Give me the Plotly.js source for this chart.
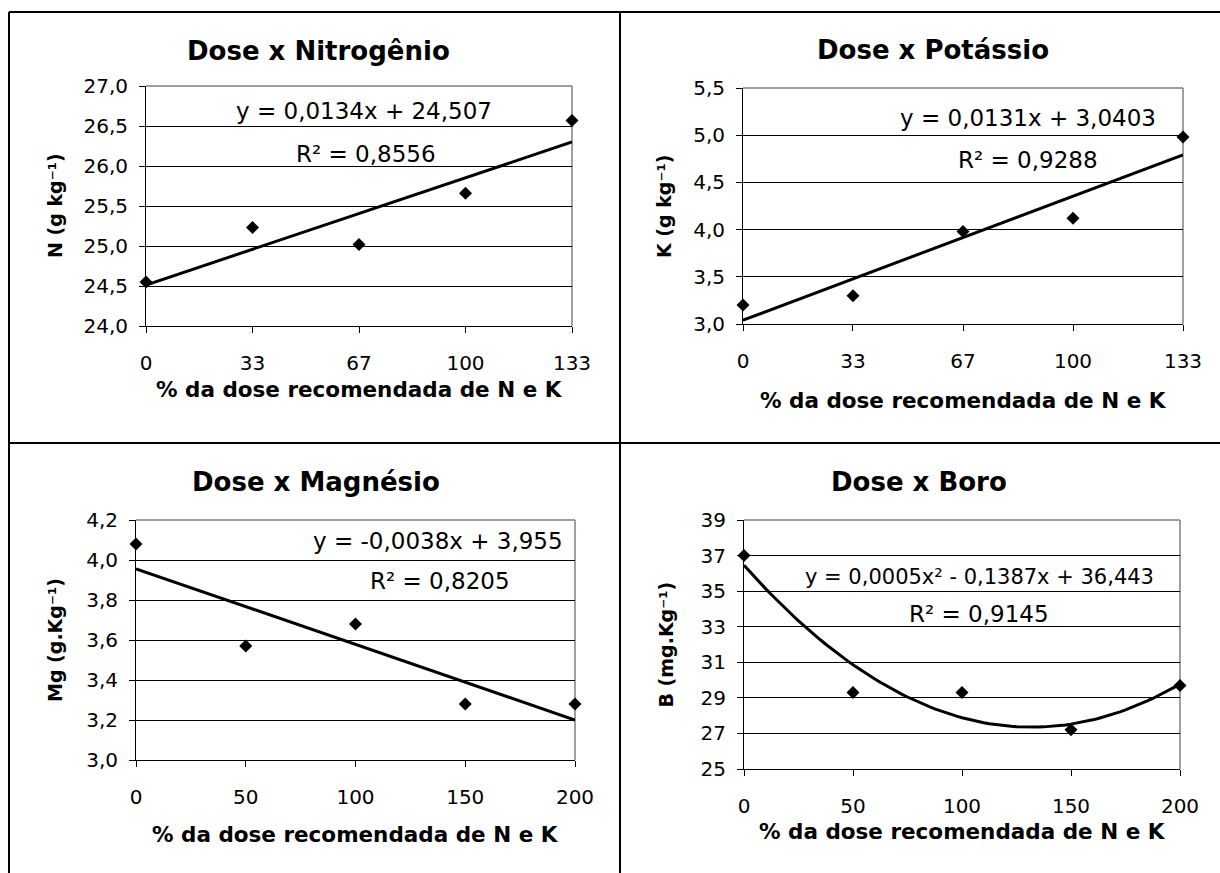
<!DOCTYPE html>
<html>
<head>
<meta charset="utf-8">
<script src="https://cdn.plot.ly/plotly-3.0.1.min.js"></script>
<style>
  html, body { margin: 0; padding: 0; background: #fff; }
  #chart { width: 1220px; height: 873px; }
</style>
</head>
<body>
<div id="chart"></div>
<script>
// Dose of N and K (% of recommended) and leaf nutrient contents
const doseNK = [0, 33.33, 66.67, 100, 133.33];
const doseNKLabels = ['0', '33', '67', '100', '133'];
const doseMgB = [0, 50, 100, 150, 200];
const doseMgBLabels = ['0', '50', '100', '150', '200'];

const nitrogen = [24.55, 25.23, 25.02, 25.66, 26.57];
const potassium = [3.20, 3.30, 3.98, 4.12, 4.98];
const magnesium = [4.08, 3.57, 3.68, 3.28, 3.28];
const boron = [37.0, 29.3, 29.3, 27.2, 29.7];

const nTicks = [24.0, 24.5, 25.0, 25.5, 26.0, 26.5, 27.0];
const kTicks = [3.0, 3.5, 4.0, 4.5, 5.0, 5.5];
const mgTicks = [3.0, 3.2, 3.4, 3.6, 3.8, 4.0, 4.2];
const bTicks = [25, 27, 29, 31, 33, 35, 37, 39];

const titles = ['Dose x Nitrogênio', 'Dose x Potássio', 'Dose x Magnésio', 'Dose x Boro'];
const yTitles = ['N (g kg⁻¹)', 'K (g kg⁻¹)', 'Mg (g.Kg⁻¹)', 'B (mg.Kg⁻¹)'];
const xTitle = '% da dose recomendada de N e K';
const equations = ['y = 0,0134x + 24,507', 'y = 0,0131x + 3,0403', 'y = -0,0038x + 3,955', 'y = 0,0005x² - 0,1387x + 36,443'];
const rSquared = ['R² = 0,8556', 'R² = 0,9288', 'R² = 0,8205', 'R² = 0,9145'];

// least-squares polynomial fit (degree 1 or 2), returns coefficients [c0, c1, c2...]
function polyFit(xs, ys, deg) {
  const n = deg + 1;
  const A = Array.from({length: n}, () => new Array(n + 1).fill(0));
  for (let i = 0; i < xs.length; i++) {
    for (let r = 0; r < n; r++) {
      for (let c = 0; c < n; c++) A[r][c] += Math.pow(xs[i], r + c);
      A[r][n] += ys[i] * Math.pow(xs[i], r);
    }
  }
  for (let p = 0; p < n; p++) {
    for (let r = p + 1; r < n; r++) {
      const f = A[r][p] / A[p][p];
      for (let c = p; c <= n; c++) A[r][c] -= f * A[p][c];
    }
  }
  const coef = new Array(n).fill(0);
  for (let r = n - 1; r >= 0; r--) {
    let s = A[r][n];
    for (let c = r + 1; c < n; c++) s -= A[r][c] * coef[c];
    coef[r] = s / A[r][r];
  }
  return coef;
}

function trendTrace(xs, ys, deg, xa, ya) {
  const coef = polyFit(xs, ys, deg);
  const lo = xs[0], hi = xs[xs.length - 1];
  const steps = 80;
  const tx = [], ty = [];
  for (let i = 0; i <= steps; i++) {
    const x = lo + (hi - lo) * i / steps;
    let y = 0;
    coef.forEach((c, k) => { y += c * Math.pow(x, k); });
    tx.push(x); ty.push(y);
  }
  return {x: tx, y: ty, xaxis: xa, yaxis: ya, mode: 'lines', type: 'scatter',
          line: {color: '#000', width: 3}, hoverinfo: 'skip', showlegend: false};
}

function pointsTrace(xs, ys, xa, ya) {
  return {x: xs, y: ys, xaxis: xa, yaxis: ya, mode: 'markers', type: 'scatter', cliponaxis: false,
          marker: {symbol: 'diamond', size: 10, color: '#000'}, showlegend: false};
}

const W = 1220, H = 873;
const px = v => v / W;
const py = v => 1 - v / H;

const FONT = 'DejaVu Sans, Verdana, sans-serif';

// panel geometry (pixels)
const panels = [
  {xl: 146, xr: 572, yt: 86, yb: 326, titleX: 318, titleY: 51, eqX: 364, eqY: 111, rX: 366, rY: 154, ytX: 55, xtY: 390, eqSize: 23,
   x: doseNK, xLabels: doseNKLabels, y: nitrogen, yTicks: nTicks, fmt: '.1f', deg: 1},
  {xl: 743, xr: 1183, yt: 88, yb: 324, titleX: 933, titleY: 50, eqX: 1028, eqY: 118, rX: 1028, rY: 160, ytX: 664, xtY: 401, eqSize: 23,
   x: doseNK, xLabels: doseNKLabels, y: potassium, yTicks: kTicks, fmt: '.1f', deg: 1},
  {xl: 136, xr: 575, yt: 520, yb: 760, titleX: 316, titleY: 482, eqX: 438, eqY: 541, rX: 440, rY: 581, ytX: 55, xtY: 834, eqSize: 23,
   x: doseMgB, xLabels: doseMgBLabels, y: magnesium, yTicks: mgTicks, fmt: '.1f', deg: 1},
  {xl: 744, xr: 1180, yt: 520, yb: 769, titleX: 919, titleY: 482, eqX: 979, eqY: 577, rX: 979, rY: 614, ytX: 665, xtY: 831, eqSize: 21,
   x: doseMgB, xLabels: doseMgBLabels, y: boron, yTicks: bTicks, fmt: 'd', deg: 2}
];

const data = [];
const layout = {
  width: W, height: H,
  margin: {l: 0, r: 0, t: 0, b: 0},
  paper_bgcolor: '#fff', plot_bgcolor: '#fff',
  separators: ', ',
  font: {family: FONT, color: '#000', size: 20},
  showlegend: false,
  annotations: [],
  shapes: []
};

panels.forEach((p, i) => {
  const n = i + 1;
  const xa = 'x' + (n === 1 ? '' : n);
  const ya = 'y' + (n === 1 ? '' : n);
  const xKey = 'xaxis' + (n === 1 ? '' : n);
  const yKey = 'yaxis' + (n === 1 ? '' : n);

  layout[xKey] = {
    domain: [px(p.xl), px(p.xr)], anchor: ya,
    range: [p.x[0], p.x[p.x.length - 1]],
    tickmode: 'array', tickvals: p.x, ticktext: p.xLabels,
    showline: true, linecolor: '#000', linewidth: 1,
    ticks: 'outside', ticklen: 6, tickcolor: '#000', tickwidth: 1,
    ticklabelstandoff: 13,
    showgrid: false, zeroline: false, fixedrange: true,
    tickfont: {family: FONT, size: 20, color: '#000'}
  };
  layout[yKey] = {
    domain: [py(p.yb), py(p.yt)], anchor: xa,
    range: [p.yTicks[0], p.yTicks[p.yTicks.length - 1]],
    tickmode: 'array', tickvals: p.yTicks, tickformat: p.fmt,
    showline: true, linecolor: '#000', linewidth: 1,
    ticks: 'outside', ticklen: 6, tickcolor: '#000', tickwidth: 1,
    ticklabelstandoff: 7,
    showgrid: true, gridcolor: '#000', gridwidth: 1,
    zeroline: false, fixedrange: true,
    tickfont: {family: FONT, size: 20, color: '#000'}
  };

  data.push(trendTrace(p.x, p.y, p.deg, xa, ya));
  data.push(pointsTrace(p.x, p.y, xa, ya));

  // grey plot-area frame on top and right
  layout.shapes.push({type: 'line', xref: xa + ' domain', yref: ya + ' domain', x0: 0, x1: 1, y0: 1, y1: 1,
                      line: {color: '#808080', width: 1.5}, layer: 'below'});
  layout.shapes.push({type: 'line', xref: xa + ' domain', yref: ya + ' domain', x0: 1, x1: 1, y0: 0, y1: 1,
                      line: {color: '#808080', width: 1.5}, layer: 'below'});

  layout.annotations.push({text: titles[i], xref: 'paper', yref: 'paper',
    x: px(p.titleX), y: py(p.titleY), xanchor: 'center', yanchor: 'middle', showarrow: false,
    font: {family: FONT, size: 26, weight: 'bold', color: '#000'}});
  layout.annotations.push({text: yTitles[i], xref: 'paper', yref: 'paper',
    x: px(p.ytX), y: py((p.yt + p.yb) / 2), xanchor: 'center', yanchor: 'middle', textangle: -90,
    showarrow: false, font: {family: FONT, size: 19, weight: 'bold', color: '#000'}});
  layout.annotations.push({text: xTitle, xref: 'paper', yref: 'paper',
    x: px((p.xl + p.xr) / 2), y: py(p.xtY), xanchor: 'center', yanchor: 'middle',
    showarrow: false, font: {family: FONT, size: 21.5, weight: 'bold', color: '#000'}});
  layout.annotations.push({text: equations[i], xref: 'paper', yref: 'paper',
    x: px(p.eqX), y: py(p.eqY), xanchor: 'center', yanchor: 'middle', showarrow: false,
    font: {family: FONT, size: p.eqSize, color: '#000'}});
  layout.annotations.push({text: rSquared[i], xref: 'paper', yref: 'paper',
    x: px(p.rX), y: py(p.rY), xanchor: 'center', yanchor: 'middle', showarrow: false,
    font: {family: FONT, size: 23, color: '#000'}});
});

// outer frame dividing the four panels
const frame = [
  {x0: 9, y0: 12, x1: 1220, y1: 12},
  {x0: 9, y0: 12, x1: 9, y1: 873},
  {x0: 620, y0: 12, x1: 620, y1: 873},
  {x0: 9, y0: 443, x1: 1220, y1: 443}
];
frame.forEach(f => layout.shapes.push({type: 'line', xref: 'paper', yref: 'paper',
  x0: px(f.x0), x1: px(f.x1), y0: py(f.y0), y1: py(f.y1), line: {color: '#000', width: 2}}));

Plotly.newPlot('chart', data, layout, {staticPlot: true, displayModeBar: false});
</script>
</body>
</html>
